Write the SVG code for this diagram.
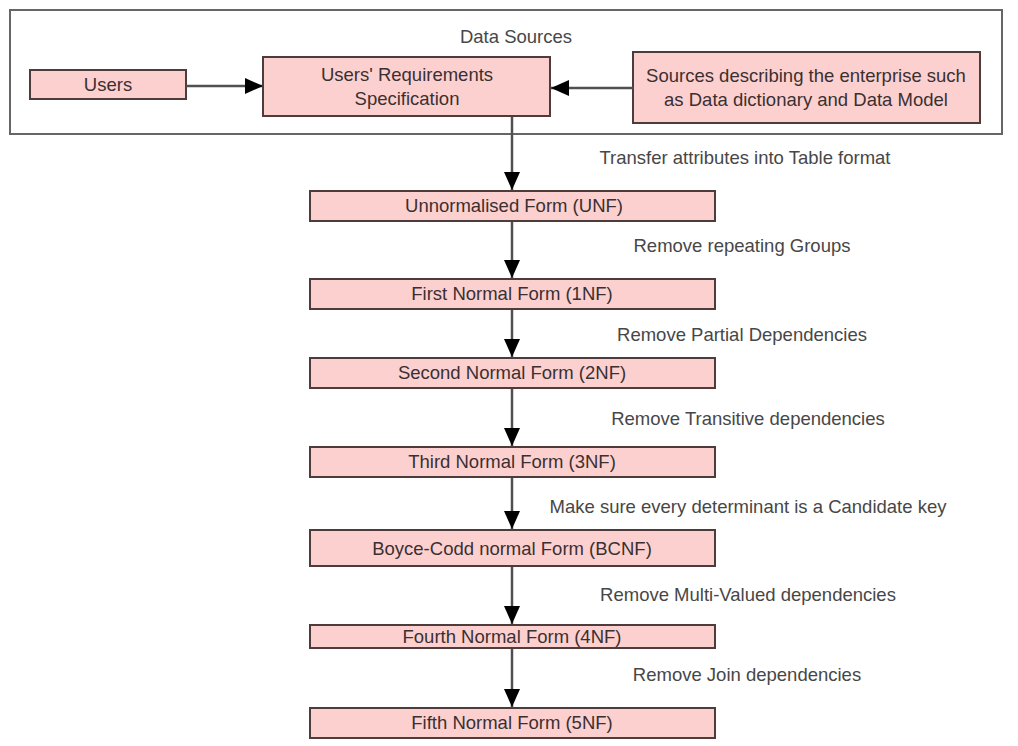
<svg xmlns="http://www.w3.org/2000/svg" width="1018" height="746" viewBox="0 0 1018 746">
<style>
.box{fill:#fdd0d0;stroke:#4e3c3c;stroke-width:2}
.t{font-family:"Liberation Sans",Arial,sans-serif;font-size:18.5px;fill:#3a3030;text-anchor:middle}
.l{font-family:"Liberation Sans",Arial,sans-serif;font-size:18.5px;fill:#474747;text-anchor:middle}
.c{stroke:#505050;stroke-width:2.5;fill:none;marker-end:url(#ah)}
</style>
<defs>
<marker id="ah" markerWidth="18" markerHeight="18" refX="18" refY="9" viewBox="0 0 18 18" orient="auto" markerUnits="userSpaceOnUse">
<path d="M0,1 L18,9 L0,17 Z" fill="#000"/>
</marker>
</defs>
<rect width="1018" height="746" fill="#fff"/>
<g id="data-sources">
<rect x="10" y="10" width="992" height="124" fill="#fff" stroke="#666" stroke-width="2"/>
<text class="l" x="516" y="43">Data Sources</text>
</g>
<g id="users">
<rect class="box" x="30" y="70" width="156" height="29"/>
<text class="t" x="108" y="91">Users</text>
</g>
<g id="urs">
<rect class="box" x="263" y="57" width="287" height="59"/>
<text class="t" x="407" y="81">Users' Requirements</text>
<text class="t" x="407" y="105">Specification</text>
</g>
<g id="sources">
<rect class="box" x="633" y="52" width="347" height="71"/>
<text class="t" x="806" y="82">Sources describing the enterprise such</text>
<text class="t" x="806" y="106">as Data dictionary and  Data Model</text>
</g>
<g id="unf"><rect class="box" x="310" y="191" width="405" height="30"/><text class="t" x="514" y="212">Unnormalised Form (UNF)</text></g>
<g id="nf1"><rect class="box" x="310" y="279" width="405" height="30"/><text class="t" x="512" y="300">First Normal Form (1NF)</text></g>
<g id="nf2"><rect class="box" x="310" y="358" width="405" height="30"/><text class="t" x="512" y="379">Second Normal Form (2NF)</text></g>
<g id="nf3"><rect class="box" x="310" y="447" width="405" height="30"/><text class="t" x="512" y="468">Third Normal Form (3NF)</text></g>
<g id="bcnf"><rect class="box" x="310" y="530" width="405" height="36"/><text class="t" x="512" y="555">Boyce-Codd normal Form (BCNF)</text></g>
<g id="nf4"><rect class="box" x="310" y="625" width="405" height="23"/><text class="t" x="512" y="643">Fourth Normal Form (4NF)</text></g>
<g id="nf5"><rect class="box" x="310" y="708" width="405" height="30"/><text class="t" x="512" y="729">Fifth Normal Form (5NF)</text></g>
<g id="connectors">
<line class="c" x1="186" y1="86" x2="263" y2="86"/>
<line class="c" x1="633" y1="88" x2="551" y2="88"/>
<line class="c" x1="512" y1="117" x2="512" y2="190"/>
<line class="c" x1="512" y1="222" x2="512" y2="278"/>
<line class="c" x1="512" y1="310" x2="512" y2="357"/>
<line class="c" x1="512" y1="389" x2="512" y2="446"/>
<line class="c" x1="512" y1="478" x2="512" y2="529"/>
<line class="c" x1="512" y1="567" x2="512" y2="624" stroke-width="1.5"/>
<line class="c" x1="512" y1="649" x2="512" y2="707"/>
<text class="l" x="745" y="164">Transfer attributes into Table format</text>
<text class="l" x="742" y="252">Remove repeating Groups</text>
<text class="l" x="742" y="341">Remove Partial Dependencies</text>
<text class="l" x="748" y="425">Remove Transitive dependencies</text>
<text class="l" x="748" y="513">Make sure every determinant is a Candidate key</text>
<text class="l" x="748" y="601">Remove Multi-Valued dependencies</text>
<text class="l" x="747" y="681">Remove Join dependencies</text>
</g>
</svg>
